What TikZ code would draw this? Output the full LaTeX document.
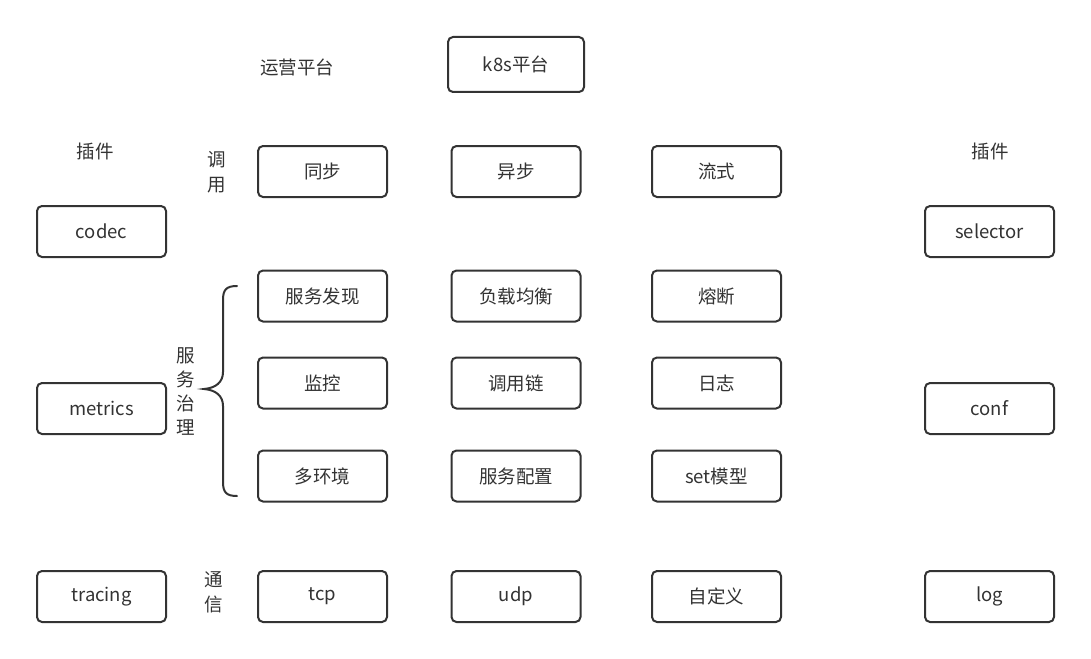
\documentclass[tikz,border=0pt]{standalone}
\usepackage{fontspec}
\setmainfont{Noto Sans CJK SC}
\definecolor{ink}{HTML}{333333}
\tikzset{
  modul/.style={draw=ink, line width=2pt, rounded corners=5pt, text=ink,
    minimum width=129pt, minimum height=51pt, inner sep=0pt},
  etikett/.style={text=ink, inner sep=0pt},
}
\begin{document}
\begin{tikzpicture}[x=1pt, y=-1pt, font=\fontsize{18.5}{22}\selectfont]
    \useasboundingbox (0,0) rectangle (1091,658);
    % Plattformen
    \node[etikett] (betrieb) at (297,67) {运营平台};
    \node[modul, minimum width=136pt, minimum height=55pt] (k8s) at (516,64.5) {k8s平台};
    % Plugins
    \node[etikett] (pluginL) at (95,151) {插件};
    \node[etikett] (pluginR) at (990,151) {插件};
    \node[modul] (codec) at (101.5,231.5) {codec};
    \node[modul] (metrics) at (101.5,408.5) {metrics};
    \node[modul] (tracing) at (101.5,596.5) {tracing};
    \node[modul] (selector) at (989.5,231.5) {selector};
    \node[modul] (conf) at (989.5,408.5) {conf};
    \node[modul] (log) at (989.5,596.5) {log};
    % Aufruf
    \node[etikett, align=center, font=\fontsize{18.5}{25}\selectfont] (aufruf) at (217,172) {调\\用};
    \node[modul] (sync) at (322.5,171.5) {同步};
    \node[modul] (async) at (516,171.5) {异步};
    \node[modul] (stream) at (716.5,171.5) {流式};
    % Service-Governance
    \node[etikett, align=center, font=\fontsize{18.5}{24}\selectfont] (gov) at (186,392) {服\\务\\治\\理};
    \node[modul] (discovery) at (322.5,296) {服务发现};
    \node[modul] (balance) at (516,296) {负载均衡};
    \node[modul] (breaker) at (716.5,296) {熔断};
    \node[modul] (monitor) at (322.5,383) {监控};
    \node[modul] (trace) at (516,383) {调用链};
    \node[modul] (logging) at (716.5,383) {日志};
    \node[modul] (multienv) at (322.5,476) {多环境};
    \node[modul] (config) at (516,476) {服务配置};
    \node[modul] (setmodel) at (716.5,476) {set模型};
    % Klammer
    \draw[ink, line width=2pt, line cap=round]
    (237,286) .. controls (226,286) and (223,290) .. (223,300)
    -- (223,372) .. controls (223,382) and (216,388) .. (204,389)
    .. controls (216,390) and (223,396) .. (223,406)
    -- (223,482) .. controls (223,492) and (226,496) .. (237,496)
    ;
    % Kommunikation
    \node[etikett, align=center, font=\fontsize{18.5}{25}\selectfont] (komm) at (214,592) {通\\信};
    \node[modul] (tcp) at (322.5,596.5) {tcp};
    \node[modul] (udp) at (516,596.5) {udp};
    \node[modul] (custom) at (716.5,596.5) {自定义};
\end{tikzpicture}
\end{document}
